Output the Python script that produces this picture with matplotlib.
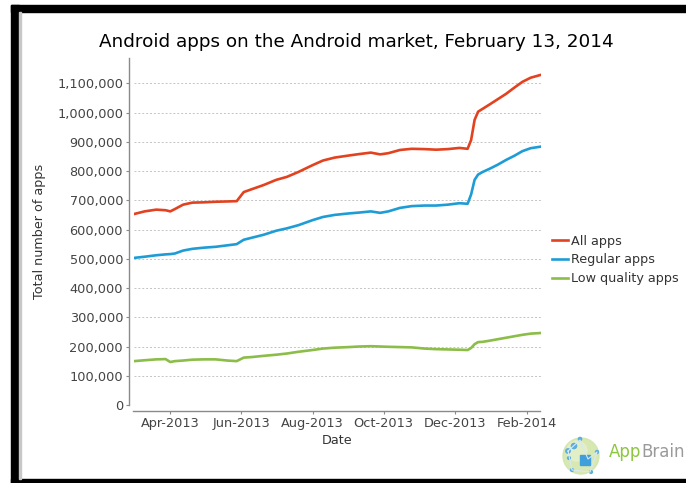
import matplotlib
matplotlib.use("Agg")
import matplotlib.pyplot as plt
import matplotlib.dates as mdates
from matplotlib.patches import Rectangle, Circle
from matplotlib.lines import Line2D
from matplotlib.ticker import FuncFormatter, MultipleLocator
import numpy as np

plt.rcParams['font.family'] = ['DejaVu Sans']

dates = ["2013-03-01", "2013-03-10", "2013-03-20", "2013-03-28", "2013-04-01", "2013-04-05",
         "2013-04-12", "2013-04-20", "2013-04-30", "2013-05-10", "2013-05-20", "2013-05-28",
         "2013-06-03", "2013-06-10", "2013-06-20", "2013-07-01", "2013-07-10", "2013-07-20",
         "2013-08-01", "2013-08-10", "2013-08-20", "2013-09-01", "2013-09-10", "2013-09-20",
         "2013-09-28", "2013-10-05", "2013-10-15", "2013-10-25", "2013-11-05", "2013-11-15",
         "2013-11-25", "2013-12-05", "2013-12-12", "2013-12-15", "2013-12-18", "2013-12-21",
         "2013-12-25", "2013-12-31", "2014-01-07", "2014-01-14", "2014-01-21", "2014-01-28",
         "2014-02-04", "2014-02-12"]

all_apps = [653000, 662000, 668000, 666000, 662000, 670000,
            685000, 692000, 693000, 695000, 696000, 697000,
            728000, 738000, 752000, 770000, 780000, 797000,
            820000, 836000, 846000, 853000, 858000, 863000,
            857000, 861000, 872000, 876000, 875000, 873000,
            875000, 879000, 876000, 906000, 975000, 1003000,
            1013000, 1028000, 1046000, 1064000, 1085000, 1105000,
            1119000, 1128000]

regular_apps = [503000, 507000, 512000, 515000, 516000, 518000,
                528000, 534000, 538000, 541000, 546000, 550000,
                565000, 572000, 582000, 596000, 604000, 615000,
                632000, 643000, 650000, 655000, 658000, 662000,
                657000, 662000, 674000, 680000, 682000, 682000,
                685000, 690000, 688000, 720000, 770000, 788000,
                797000, 808000, 822000, 838000, 852000, 868000,
                878000, 883000]

low_quality_apps = [150000, 153000, 156000, 157000, 147000, 150000,
                    152000, 155000, 156000, 156000, 152000, 150000,
                    162000, 164000, 168000, 172000, 176000, 182000,
                    188000, 193000, 196000, 198000, 200000, 201000,
                    200000, 199000, 198000, 197000, 193000, 191000,
                    190000, 189000, 188000, 195000, 208000, 215000,
                    216000, 220000, 225000, 230000, 235000, 240000,
                    244000, 246000]

series_names = ["All apps", "Regular apps", "Low quality apps"]
colors = ["#e2421f", "#1e9cd6", "#8bbd48"]

W, H = 686, 483
fig = plt.figure(figsize=(W / 100, H / 100), dpi=100)

def fx(x):
    return x / W

def fy(y):
    return 1 - y / H

# black frame (screenshot border)
fig.patches.append(Rectangle((fx(11), fy(12)), 1 - fx(11), fy(5) - fy(12),
                             transform=fig.transFigure, color="black", zorder=0))
fig.patches.append(Rectangle((fx(11), 0), fx(19) - fx(11), fy(5),
                             transform=fig.transFigure, color="black", zorder=0))
fig.patches.append(Rectangle((fx(11), 0), 1 - fx(11), fy(479),
                             transform=fig.transFigure, color="black", zorder=0))
fig.patches.append(Rectangle((fx(19), fy(479)), fx(20.5) - fx(19), fy(12) - fy(479),
                             transform=fig.transFigure, color="#c8c8c8", zorder=0))

left, right, top, bottom = 133.5, 540.5, 58, 405
ax = fig.add_axes([fx(left), fy(bottom), fx(right) - fx(left), fy(top) - fy(bottom)])

d = np.array(dates, dtype="datetime64[D]")
for vals, name, c in zip([all_apps, regular_apps, low_quality_apps], series_names, colors):
    ax.plot(d, vals, color=c, lw=1.9, label=name, solid_joinstyle="round")

ax.set_xlim(np.datetime64("2013-02-28T12:00"), np.datetime64("2014-02-12T12:00"))
ax.set_ylim(0, 1186500)

ax.yaxis.set_major_locator(MultipleLocator(100000))
ax.yaxis.set_major_formatter(FuncFormatter(lambda v, p: f"{int(round(v)):,}"))
ax.xaxis.set_major_locator(mdates.MonthLocator(bymonth=[4, 6, 8, 10, 12, 2]))
ax.xaxis.set_major_formatter(mdates.DateFormatter("%b-%Y"))

ax.grid(axis="y", color="#c4c4c4", linestyle=(0, (2, 2)), linewidth=0.7)
ax.set_axisbelow(True)

for s in ["top", "right"]:
    ax.spines[s].set_visible(False)
ax.spines["left"].set_position(("outward", 3))
ax.spines["bottom"].set_position(("outward", 4))
for s in ["left", "bottom"]:
    ax.spines[s].set_color("#8a8a8a")
    ax.spines[s].set_linewidth(1.0)

ax.tick_params(axis="both", colors="#8a8a8a", labelcolor="#444444", labelsize=9.3,
               length=2.5, width=0.8, pad=2)

ax.set_xlabel("Date", fontsize=9.2, color="#333333", labelpad=3)
ax.set_ylabel("Total number of apps", fontsize=9.2, color="#333333", labelpad=8)

fig.text(fx(356), fy(42), "Android apps on the Android market, February 13, 2014",
         ha="center", va="center", fontsize=13.2, color="black")

handles = [Line2D([0], [0], color=c, lw=1.9) for c in colors]
fig.legend(handles, series_names, loc="center left", bbox_to_anchor=(fx(552), fy(260)),
           frameon=False, fontsize=9.2, handlelength=1.25, handletextpad=0.25,
           labelspacing=0.45, labelcolor="#333333", borderaxespad=0, borderpad=0)

# AppBrain logo
logo_ax = fig.add_axes([fx(560), fy(479), fx(604) - fx(560), fy(432) - fy(479)])
logo_ax.set_xlim(0, 44)
logo_ax.set_ylim(0, 47)
logo_ax.set_aspect("equal")
logo_ax.axis("off")
logo_ax.add_patch(Circle((21, 23), 18, color="#d3e6ab", alpha=0.9))
logo_ax.add_patch(Circle((17, 28), 10, color="#e6f0cc", alpha=0.8))
logo_ax.plot([8, 20, 28, 37, 30, 12, 8], [28, 39, 20, 27, 7, 9, 28], color="#d8e8f5", lw=0.8)
logo_ax.add_patch(Rectangle((20, 14), 10, 10, color="#3f9fdb"))
for (px, py, r) in [(20, 40, 1.6), (8, 28, 2.2), (14, 33, 2.6), (37, 27, 1.5), (31, 7, 1.4), (12, 9, 1.4), (9, 21, 1.4)]:
    logo_ax.add_patch(Circle((px, py), r, color="#5aaee2"))

t_app = fig.text(fx(609), fy(452), "App", fontsize=12, color="#8dc63f", ha="left", va="center")
fig.canvas.draw()
bb = t_app.get_window_extent(renderer=fig.canvas.get_renderer())
x_end = bb.x1 / fig.dpi / fig.get_figwidth()
fig.text(x_end, fy(452), "Brain", fontsize=12, color="#9a9a9a", ha="left", va="center")

fig.savefig("out.png", dpi=100)
